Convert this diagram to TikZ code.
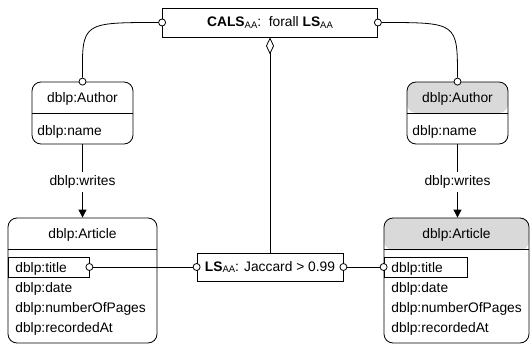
\documentclass[tikz,border=0pt]{standalone}
\usepackage{fontspec}
\setmainfont{Liberation Sans}
\usetikzlibrary{arrows.meta}
\definecolor{titlegray}{HTML}{D9D9D9}
% small lowered index used in the labels
\newcommand{\lowidx}[1]{\raisebox{-1.8pt}{\fontsize{9.5}{10}\selectfont #1}}
\begin{document}
\begin{tikzpicture}[x=1pt,y=-1pt,
  font=\fontsize{13.8}{16}\selectfont,
  every path/.style={line width=0.8pt},
  box/.style={draw, line width=0.8pt, inner sep=0pt},
  classbox/.style={box, rounded corners=9pt},
  graytop/.style={path picture={\fill[titlegray] (path picture bounding box.north west) rectangle ([yshift=-#1]path picture bounding box.north east);}},
  port/.style={circle, draw, fill=white, line width=0.8pt, minimum size=7pt, inner sep=0pt},
  txt/.style={inner sep=0pt, anchor=base west},
  ctxt/.style={inner sep=0pt, anchor=base},
  rel/.style={inner sep=0pt, fill=white, minimum height=20pt},
  tip/.style={-{Triangle[width=8pt,length=8pt]}}
]
\useasboundingbox (0,0) rectangle (530,345);

% constraint boxes
\node[box, minimum width=215pt, minimum height=29pt] (cals) at (270,22.5)
  {\textbf{CALS}\lowidx{AA}:\ \ forall \textbf{LS}\lowidx{AA}};
\node[box, minimum width=146pt, minimum height=28pt] (ls) at (270,267)
  {\textbf{LS}\lowidx{AA}: Jaccard > 0.99};

% left author class
\node[classbox, minimum width=101pt, minimum height=62pt] (authL) at (82.5,113) {};
\draw (authL.west) -- (authL.east);
\node[ctxt] (authLt) at (82.5,102) {dblp:Author};
\node[txt] (authLn) at (37,135) {dblp:name};

% right author class
\node[classbox, graytop=31pt, minimum width=101pt, minimum height=62pt] (authR) at (457.5,113) {};
\draw (authR.west) -- (authR.east);
\node[ctxt] (authRt) at (457.5,102) {dblp:Author};
\node[txt] (authRn) at (412,135) {dblp:name};

% left article class
\node[classbox, minimum width=149pt, minimum height=125pt] (artL) at (82.5,280.5) {};
\draw ([yshift=-32pt]artL.north west) -- ([yshift=-32pt]artL.north east);
\node[ctxt] (artLt) at (82.5,238) {dblp:Article};
\node[box, minimum width=81pt, minimum height=20pt] (ttlL) at (48.5,267) {};
\node[txt] (tL1) at (15,272) {dblp:title};
\node[txt] (tL2) at (15,292) {dblp:date};
\node[txt] (tL3) at (15,312) {dblp:numberOfPages};
\node[txt] (tL4) at (15,332) {dblp:recordedAt};

% right article class
\node[classbox, graytop=32pt, minimum width=145pt, minimum height=125pt] (artR) at (456.5,280.5) {};
\draw ([yshift=-32pt]artR.north west) -- ([yshift=-32pt]artR.north east);
\node[ctxt] (artRt) at (456.5,238) {dblp:Article};
\node[box, minimum width=83pt, minimum height=20pt] (ttlR) at (425.5,267) {};
\node[txt] (tR1) at (391,272) {dblp:title};
\node[txt] (tR2) at (391,292) {dblp:date};
\node[txt] (tR3) at (391,312) {dblp:numberOfPages};
\node[txt] (tR4) at (391,332) {dblp:recordedAt};

% connection ports
\node[port] (pCalsL) at (cals.west) {};
\node[port] (pCalsR) at (cals.east) {};
\node[port] (pAuthL) at (authL.north) {};
\node[port] (pAuthR) at (authR.north) {};
\node[port] (pTtlL) at (ttlL.east) {};
\node[port] (pLsL) at (ls.west) {};
\node[port] (pLsR) at (ls.east) {};
\node[port] (pTtlR) at (ttlR.west) {};

% constraint links
\draw (pCalsL) .. controls (82,22.5) and (82,22.5) .. (pAuthL);
\draw (pCalsR) .. controls (457.5,22.5) and (457.5,22.5) .. (pAuthR);
\draw (pTtlL) -- (pLsL);
\draw (pLsR) -- (pTtlR);
\draw[{Diamond[open,width=8pt,length=17pt]}-] (cals.south) -- (ls.north);

% writes relations
\node[rel] (wL) at (82.5,182) {dblp:writes};
\draw (authL.south) -- (wL.north);
\draw[tip] (wL.south) -- (wL.south |- artL.north);
\node[rel] (wR) at (457.5,182) {dblp:writes};
\draw (authR.south) -- (wR.north);
\draw[tip] (wR.south) -- (wR.south |- artR.north);
\end{tikzpicture}
\end{document}
